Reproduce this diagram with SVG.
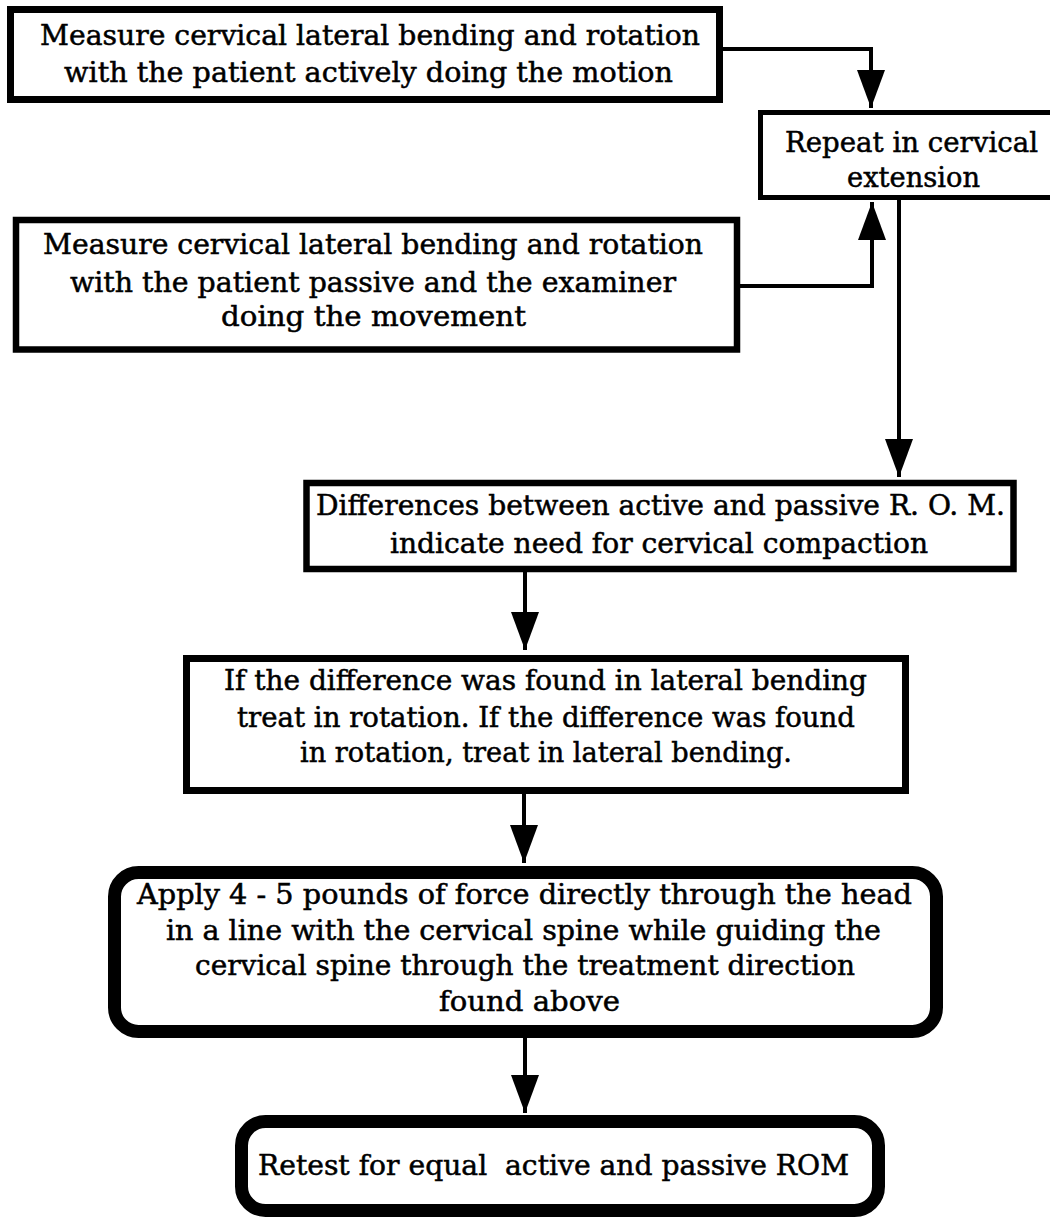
<svg xmlns="http://www.w3.org/2000/svg" width="1050" height="1218" viewBox="0 0 1050 1218">
<style>
.box{fill:#fff;stroke:#000}
.t{font-family:"DejaVu Serif","Liberation Serif",serif;font-size:27px;fill:#000;stroke:#000;stroke-width:0.5}
.c{fill:none;stroke:#000;stroke-width:4}
</style>
<defs>
<marker id="ah" markerUnits="userSpaceOnUse" markerWidth="40" markerHeight="30" refX="38" refY="14" orient="auto">
<path d="M0,0 L38,14 L0,28 Z" fill="#000"/>
</marker>
</defs>
<rect width="1050" height="1218" fill="#fff"/>
<g id="connectors">
<path class="c" d="M723,49 H871 V108" marker-end="url(#ah)"/>
<path class="c" d="M740,286 H872 V202" marker-end="url(#ah)"/>
<path class="c" d="M899,200 V477" marker-end="url(#ah)"/>
<path class="c" d="M525,572 V650" marker-end="url(#ah)"/>
<path class="c" d="M524,794 V863" marker-end="url(#ah)"/>
<path class="c" d="M525,1038 V1113" marker-end="url(#ah)"/>
</g>
<g id="n1">
<rect class="box" x="10.5" y="9.5" width="709" height="90" stroke-width="7"/>
<text class="t" x="40" y="45" textLength="660" lengthAdjust="spacingAndGlyphs">Measure cervical lateral bending and rotation</text>
<text class="t" x="64" y="82" textLength="609" lengthAdjust="spacingAndGlyphs">with the patient actively doing the motion</text>
</g>
<g id="n2">
<rect class="box" x="760.5" y="112.5" width="300" height="85" stroke-width="5"/>
<text class="t" x="785" y="152" textLength="253" lengthAdjust="spacingAndGlyphs">Repeat in cervical</text>
<text class="t" x="847" y="187" textLength="133" lengthAdjust="spacingAndGlyphs">extension</text>
</g>
<g id="n3">
<rect class="box" x="16" y="220" width="721" height="129.5" stroke-width="6.5"/>
<text class="t" x="43" y="254" textLength="660" lengthAdjust="spacingAndGlyphs">Measure cervical lateral bending and rotation</text>
<text class="t" x="70" y="292" textLength="606" lengthAdjust="spacingAndGlyphs">with the patient passive and the examiner</text>
<text class="t" x="221" y="326" textLength="305" lengthAdjust="spacingAndGlyphs">doing the movement</text>
</g>
<g id="n4">
<rect class="box" x="306.5" y="483" width="707" height="86" stroke-width="6.5"/>
<text class="t" x="316" y="515" textLength="689" lengthAdjust="spacingAndGlyphs">Differences between active and passive R. O. M.</text>
<text class="t" x="390" y="553" textLength="538" lengthAdjust="spacingAndGlyphs">indicate need for cervical compaction</text>
</g>
<g id="n5">
<rect class="box" x="186.5" y="658.5" width="719" height="132" stroke-width="7"/>
<text class="t" x="224" y="690" textLength="643" lengthAdjust="spacingAndGlyphs">If the difference was found in lateral bending</text>
<text class="t" x="237" y="727" textLength="618" lengthAdjust="spacingAndGlyphs">treat in rotation. If the difference was found</text>
<text class="t" x="300" y="762" textLength="492" lengthAdjust="spacingAndGlyphs">in rotation, treat in lateral bending.</text>
</g>
<g id="n6">
<rect class="box" x="114.5" y="872.5" width="822" height="159" rx="24" stroke-width="13"/>
<text class="t" x="137" y="904" textLength="775" lengthAdjust="spacingAndGlyphs">Apply 4 - 5 pounds of force directly through the head</text>
<text class="t" x="166" y="940" textLength="715" lengthAdjust="spacingAndGlyphs">in a line with the cervical spine while guiding the</text>
<text class="t" x="195" y="975" textLength="660" lengthAdjust="spacingAndGlyphs">cervical spine through the treatment direction</text>
<text class="t" x="439" y="1011" textLength="181" lengthAdjust="spacingAndGlyphs">found above</text>
</g>
<g id="n7">
<rect class="box" x="241.5" y="1121.5" width="637" height="89" rx="24" stroke-width="13"/>
<text class="t" x="258" y="1175" textLength="591" lengthAdjust="spacingAndGlyphs" xml:space="preserve">Retest for equal  active and passive ROM</text>
</g>
</svg>
